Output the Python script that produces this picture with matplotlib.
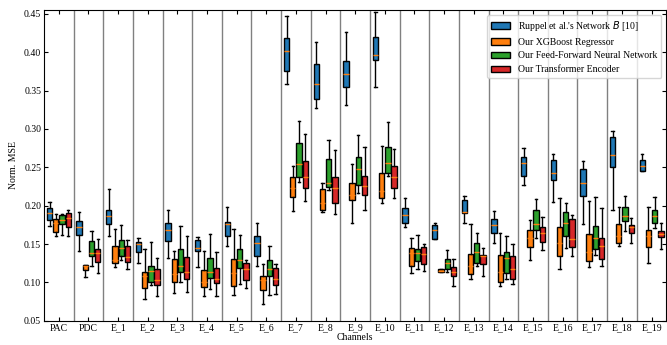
import numpy as np
import matplotlib.pyplot as plt
from matplotlib.patches import Patch

plt.rcParams['font.family'] = ['Liberation Serif', 'DejaVu Sans']
plt.rcParams['font.size'] = 7
plt.rcParams['mathtext.fontset'] = 'dejavusans'

channels = ['PAC', 'PDC'] + ['E_%d' % i for i in range(1, 20)]

# each entry: (whisker low, q1, median, q3, whisker high)
ruppel = [
    (0.174, 0.182, 0.190, 0.197, 0.205),
    (0.141, 0.162, 0.172, 0.180, 0.192),
    (0.161, 0.176, 0.186, 0.195, 0.222),
    (0.125, 0.140, 0.150, 0.153, 0.158),
    (0.132, 0.154, 0.168, 0.177, 0.195),
    (0.120, 0.141, 0.145, 0.155, 0.159),
    (0.147, 0.161, 0.176, 0.179, 0.198),
    (0.121, 0.134, 0.152, 0.160, 0.177),
    (0.359, 0.375, 0.402, 0.418, 0.447),
    (0.327, 0.339, 0.359, 0.384, 0.413),
    (0.331, 0.355, 0.371, 0.389, 0.426),
    (0.355, 0.390, 0.397, 0.420, 0.452),
    (0.172, 0.177, 0.188, 0.197, 0.210),
    (0.157, 0.157, 0.168, 0.175, 0.177),
    (0.177, 0.190, 0.192, 0.207, 0.213),
    (0.152, 0.164, 0.175, 0.183, 0.193),
    (0.227, 0.239, 0.256, 0.263, 0.275),
    (0.205, 0.233, 0.243, 0.259, 0.267),
    (0.176, 0.213, 0.229, 0.248, 0.258),
    (0.194, 0.251, 0.266, 0.290, 0.298),
    (0.245, 0.245, 0.252, 0.259, 0.267),
]
xgboost = [
    (0.160, 0.166, 0.178, 0.183, 0.189),
    (0.107, 0.116, 0.122, 0.123, 0.123),
    (0.120, 0.126, 0.129, 0.148, 0.170),
    (0.078, 0.093, 0.108, 0.114, 0.144),
    (0.086, 0.100, 0.111, 0.130, 0.141),
    (0.082, 0.094, 0.100, 0.116, 0.141),
    (0.084, 0.096, 0.112, 0.131, 0.170),
    (0.072, 0.090, 0.103, 0.108, 0.124),
    (0.193, 0.211, 0.223, 0.237, 0.252),
    (0.192, 0.195, 0.203, 0.222, 0.230),
    (0.177, 0.208, 0.214, 0.230, 0.255),
    (0.204, 0.210, 0.219, 0.242, 0.278),
    (0.112, 0.121, 0.138, 0.145, 0.158),
    (0.113, 0.113, 0.115, 0.118, 0.118),
    (0.105, 0.111, 0.121, 0.137, 0.176),
    (0.095, 0.101, 0.113, 0.136, 0.164),
    (0.129, 0.146, 0.158, 0.169, 0.181),
    (0.118, 0.135, 0.152, 0.172, 0.210),
    (0.120, 0.128, 0.140, 0.163, 0.206),
    (0.147, 0.152, 0.161, 0.176, 0.198),
    (0.125, 0.146, 0.160, 0.169, 0.198),
]
ffnn = [
    (0.162, 0.176, 0.181, 0.188, 0.189),
    (0.121, 0.134, 0.138, 0.154, 0.167),
    (0.129, 0.135, 0.145, 0.155, 0.175),
    (0.097, 0.100, 0.115, 0.122, 0.153),
    (0.100, 0.113, 0.122, 0.143, 0.174),
    (0.092, 0.106, 0.113, 0.132, 0.163),
    (0.098, 0.119, 0.129, 0.144, 0.162),
    (0.084, 0.109, 0.118, 0.129, 0.147),
    (0.231, 0.238, 0.255, 0.282, 0.311),
    (0.220, 0.225, 0.230, 0.261, 0.286),
    (0.217, 0.227, 0.248, 0.263, 0.292),
    (0.239, 0.242, 0.256, 0.277, 0.309),
    (0.118, 0.128, 0.139, 0.144, 0.162),
    (0.113, 0.118, 0.125, 0.131, 0.142),
    (0.122, 0.126, 0.140, 0.152, 0.164),
    (0.104, 0.112, 0.132, 0.140, 0.160),
    (0.158, 0.169, 0.176, 0.194, 0.209),
    (0.145, 0.160, 0.177, 0.192, 0.204),
    (0.136, 0.144, 0.158, 0.173, 0.212),
    (0.167, 0.180, 0.187, 0.198, 0.213),
    (0.171, 0.177, 0.186, 0.195, 0.212),
]
transformer = [
    (0.160, 0.172, 0.184, 0.190, 0.195),
    (0.112, 0.127, 0.138, 0.144, 0.156),
    (0.117, 0.127, 0.133, 0.148, 0.155),
    (0.083, 0.097, 0.103, 0.118, 0.132),
    (0.088, 0.104, 0.113, 0.133, 0.160),
    (0.083, 0.099, 0.104, 0.119, 0.140),
    (0.093, 0.103, 0.117, 0.126, 0.129),
    (0.085, 0.097, 0.105, 0.119, 0.124),
    (0.206, 0.223, 0.237, 0.258, 0.294),
    (0.189, 0.204, 0.223, 0.237, 0.272),
    (0.194, 0.214, 0.226, 0.239, 0.277),
    (0.210, 0.223, 0.237, 0.252, 0.274),
    (0.115, 0.124, 0.137, 0.146, 0.150),
    (0.095, 0.108, 0.114, 0.120, 0.131),
    (0.108, 0.124, 0.134, 0.136, 0.145),
    (0.098, 0.105, 0.118, 0.134, 0.150),
    (0.142, 0.153, 0.165, 0.172, 0.185),
    (0.134, 0.146, 0.157, 0.183, 0.188),
    (0.121, 0.131, 0.147, 0.158, 0.197),
    (0.151, 0.164, 0.172, 0.175, 0.184),
    (0.144, 0.159, 0.163, 0.167, 0.178),
]

names = ["Ruppel et al.'s Network $B$ [10]", 'Our XGBoost Regressor',
         'Our Feed-Forward Neural Network', 'Our Transformer Encoder']
colors = ['#1f77b4', '#ff7f0e', '#2ca02c', '#d62728']
offsets = [-0.315, -0.105, 0.105, 0.315]

fig = plt.figure(figsize=(6.67, 3.45), dpi=100)
ax = fig.add_axes([0.066, 0.07, 0.933, 0.901])

# vertical separators between channels
for i in range(len(channels) - 1):
    ax.axvline(i + 0.5, color='grey', lw=1, zorder=0)

for data, c, off in zip([ruppel, xgboost, ffnn, transformer], colors, offsets):
    stats = [dict(whislo=v[0], q1=v[1], med=v[2], q3=v[3], whishi=v[4]) for v in data]
    pos = [i + off for i in range(len(channels))]
    ax.bxp(stats, positions=pos, widths=0.18, patch_artist=True, showfliers=False,
           manage_ticks=False, capwidths=0.08,
           boxprops=dict(facecolor=c, edgecolor='black', linewidth=1),
           medianprops=dict(color='#ff7f0e', linewidth=1),
           whiskerprops=dict(color='black', linewidth=1),
           capprops=dict(color='black', linewidth=1))

ax.set_xlim(-0.5, len(channels) - 0.5)
ax.set_ylim(0.05, 0.455)
ax.set_xticks(range(len(channels)))
ax.set_xticklabels(channels)
ax.set_yticks(np.arange(0.05, 0.451, 0.05))
ax.set_yticklabels(['%.2f' % t for t in np.arange(0.05, 0.451, 0.05)])
ax.tick_params(direction='in', top=True, right=True, length=3, pad=2)
ax.set_xlabel('Channels', labelpad=0)
ax.set_ylabel('Norm. MSE')

handles = [Patch(facecolor=c, edgecolor='black', label=n) for c, n in zip(colors, names)]
ax.legend(handles=handles, loc='upper right', fontsize=7)

fig.savefig('out.png', dpi=100)
